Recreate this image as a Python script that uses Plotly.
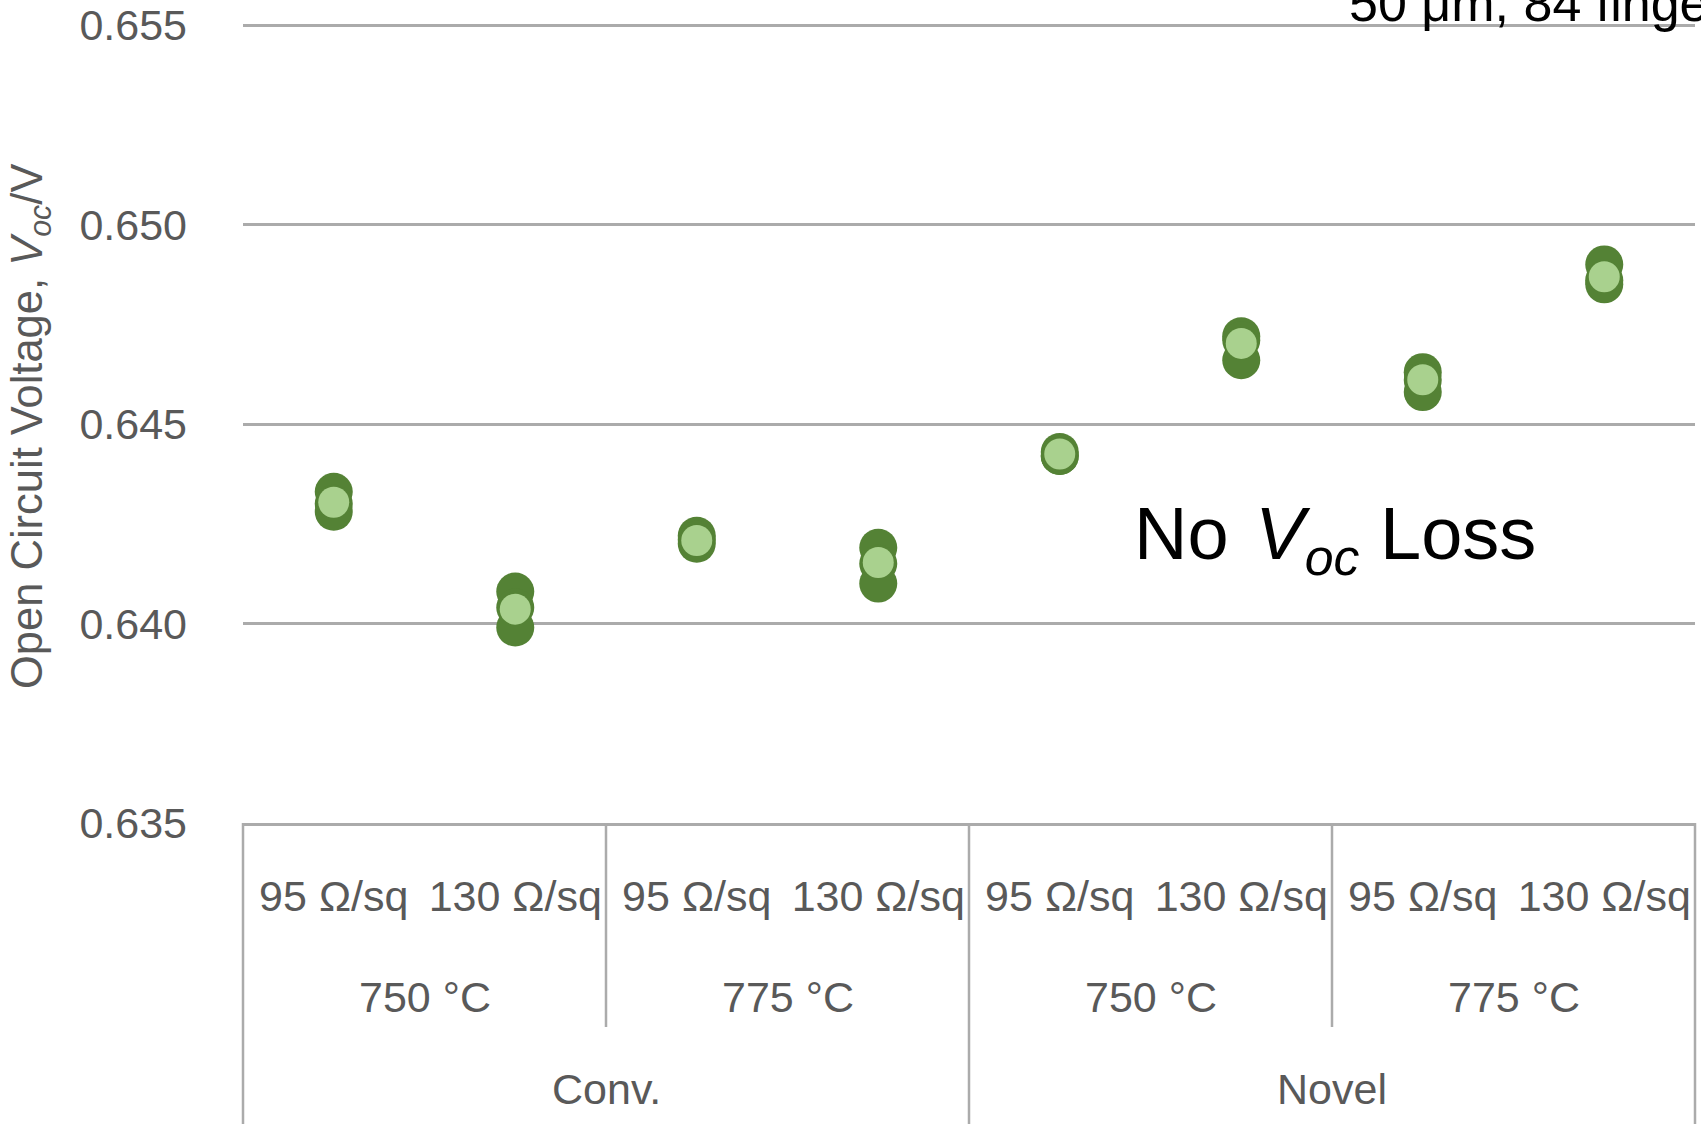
import plotly.graph_objects as go

# ---- data ----
sheet_labels = ["95 Ω/sq", "130 Ω/sq", "95 Ω/sq", "130 Ω/sq",
                "95 Ω/sq", "130 Ω/sq", "95 Ω/sq", "130 Ω/sq"]
temp_labels = ["750 °C", "775 °C", "750 °C", "775 °C"]
process_labels = ["Conv.", "Novel"]

voc_cell_a = [0.6433, 0.6408, 0.6422, 0.6419, 0.6443, 0.6472, 0.6463, 0.6490]
voc_cell_b = [0.6430, 0.6404, 0.6421, 0.6415, 0.6442, 0.6471, 0.6461, 0.6486]
voc_cell_c = [0.6428, 0.6399, 0.6420, 0.6410, 0.6442, 0.6466, 0.6458, 0.6485]
voc_mean = [0.64304, 0.64036, 0.64208, 0.64153, 0.64425, 0.64702, 0.64611, 0.64869]

y_ticks = [0.635, 0.640, 0.645, 0.650, 0.655]

DARK = "#548235"
LIGHT = "#A9D18E"
GRAY_TXT = "#595959"
GRID = "#ABABAB"
FONT = "Liberation Sans, Arial, sans-serif"

x_idx = list(range(len(sheet_labels)))

fig = go.Figure()
for cells in (voc_cell_a, voc_cell_b, voc_cell_c):
    fig.add_trace(go.Scatter(x=x_idx, y=cells, mode="markers",
                             marker=dict(size=38, color=DARK, line=dict(width=0)),
                             showlegend=False, cliponaxis=False, hoverinfo="skip"))
fig.add_trace(go.Scatter(x=x_idx, y=voc_mean, mode="markers",
                         marker=dict(size=31, color=LIGHT, line=dict(width=0)),
                         showlegend=False, cliponaxis=False, hoverinfo="skip"))

W, H = 1701, 1124
ml, mr, mt, mb = 243, 6, 23, 301
plot_h = H - mt - mb

def py(pix):
    """pixel y (from top) -> paper y"""
    return (H - mb - pix) / plot_h

n = len(sheet_labels)
annotations = []
# temperature labels
for g, t in enumerate(temp_labels):
    annotations.append(dict(x=(2 * g + 1) / n, xref="paper", y=py(997), yref="paper",
                            text=t, showarrow=False, xanchor="center", yanchor="middle",
                            font=dict(size=43, color=GRAY_TXT, family=FONT)))
# process labels
for g, p in enumerate(process_labels):
    annotations.append(dict(x=(4 * g + 2) / n, xref="paper", y=py(1089), yref="paper",
                            text=p, showarrow=False, xanchor="center", yanchor="middle",
                            font=dict(size=43, color=GRAY_TXT, family=FONT)))
# y axis title
annotations.append(dict(x=(30 - ml) / (W - ml - mr), xref="paper", y=py(426), yref="paper",
                        text="Open Circuit Voltage, <i>V<sub>oc</sub></i>/V", textangle=-90,
                        showarrow=False, xanchor="center", yanchor="middle",
                        font=dict(size=43.5, color=GRAY_TXT, family=FONT)))
# in-plot annotation
annotations.append(dict(x=(1132 - ml) / (W - ml - mr), xref="paper", y=py(539), yref="paper",
                        text="No\u00a0\u200a<i>V<sub>oc</sub></i> Loss",
                        showarrow=False, xanchor="left", yanchor="middle",
                        font=dict(size=74, color="black", family=FONT)))
# cropped top text
annotations.append(dict(x=(1347 - ml) / (W - ml - mr), xref="paper", y=py(34), yref="paper",
                        text="50 μm, 84 fingers",
                        showarrow=False, xanchor="left", yanchor="bottom",
                        font=dict(size=52, color="black", family=FONT)))

shapes = []
for k in range(0, n + 1, 2):
    long_line = (k % 4 == 0)
    y1 = py(H) if long_line else py(1027)
    shapes.append(dict(type="line", xref="paper", yref="paper", x0=k / n, x1=k / n,
                       y0=0, y1=y1, line=dict(color=GRID, width=2.5), layer="above"))

fig.update_layout(
    width=W, height=H,
    margin=dict(l=ml, r=mr, t=mt, b=mb, autoexpand=False),
    paper_bgcolor="white", plot_bgcolor="white",
    font=dict(family=FONT, color=GRAY_TXT, size=43),
    xaxis=dict(range=[-0.5, n - 0.5], tickvals=x_idx, ticktext=sheet_labels,
               showgrid=False, zeroline=False, showline=True, linecolor=GRID, linewidth=2.5,
               ticks="", ticklabelstandoff=34, automargin=False,
               tickfont=dict(size=43, color=GRAY_TXT, family=FONT)),
    yaxis=dict(range=[0.635, 0.65505], tickvals=y_ticks,
               ticktext=[f"{v:.3f}" for v in y_ticks],
               showgrid=True, gridcolor=GRID, gridwidth=2.5, zeroline=False,
               showline=False, ticks="", ticklabelstandoff=55, automargin=False,
               tickfont=dict(size=43, color=GRAY_TXT, family=FONT)),
    annotations=annotations, shapes=shapes,
)

fig.write_html("out.html", config={"displayModeBar": False},
               post_script="document.body.style.margin='0';document.body.style.overflow='hidden';")
